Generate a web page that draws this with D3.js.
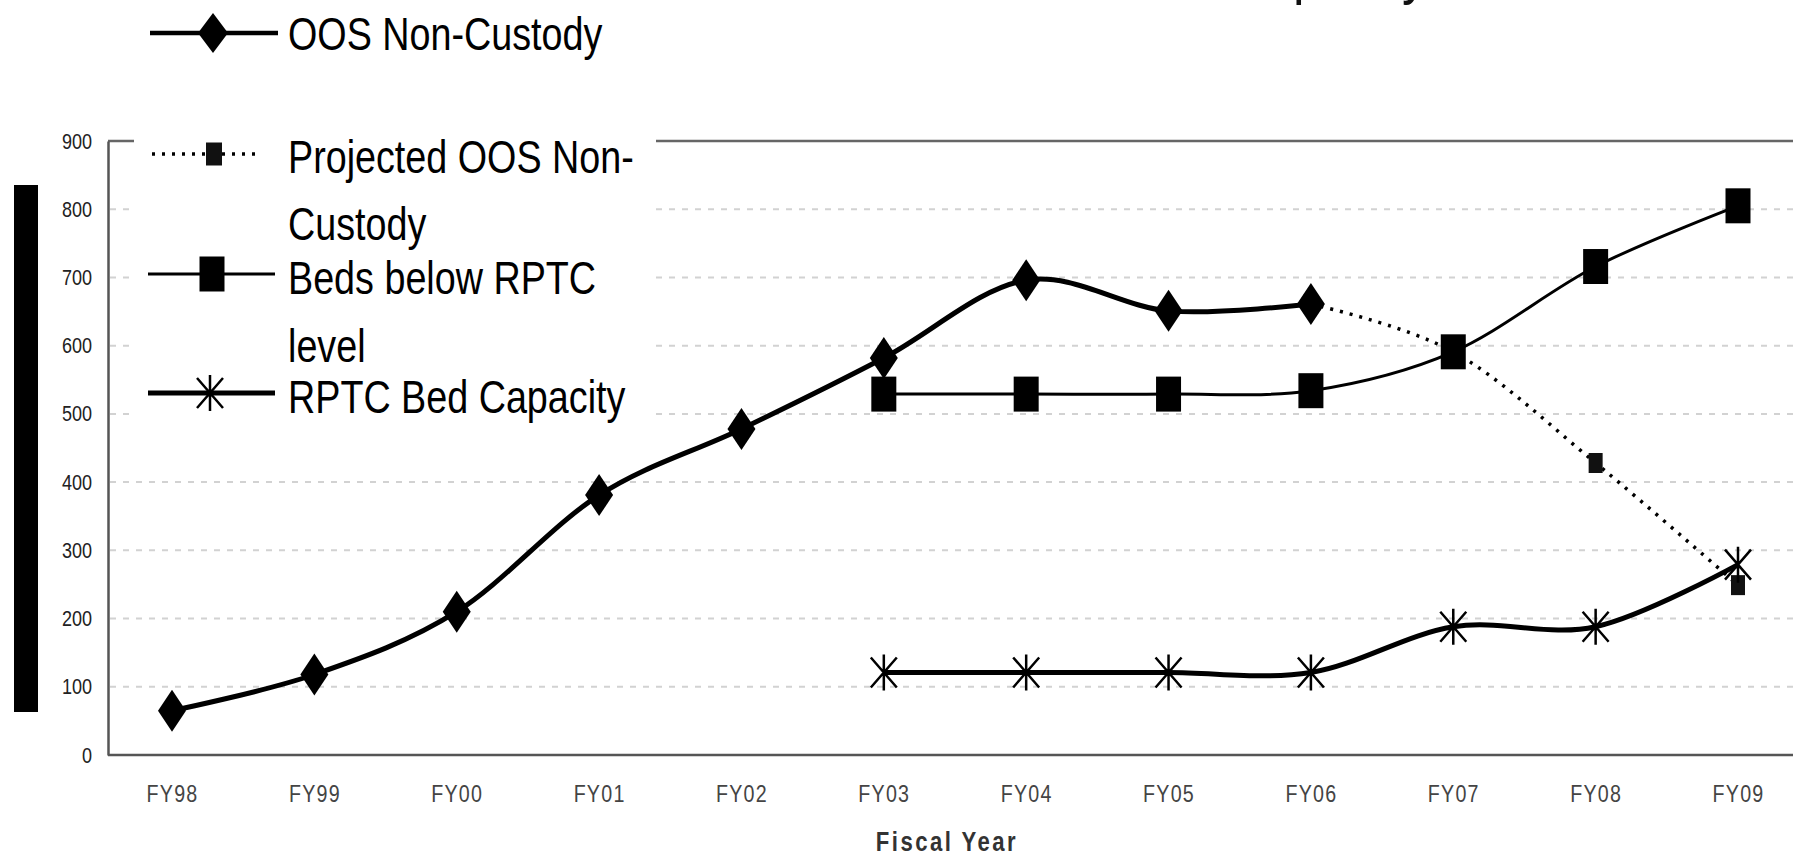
<!DOCTYPE html>
<html>
<head>
<meta charset="utf-8">
<script src="https://cdn.jsdelivr.net/npm/d3@7/dist/d3.min.js"></script>
<style>
  html, body { margin: 0; padding: 0; background: #ffffff; }
  svg { display: block; }
</style>
</head>
<body>
<svg id="chart" width="1793" height="859"></svg>
<script>
// ---------------- data ----------------
const categories = ["FY98","FY99","FY00","FY01","FY02","FY03","FY04","FY05","FY06","FY07","FY08","FY09"];
const oosNonCustody      = [65, 118, 210, 381, 478, 582, 696, 651, 661, null, null, null];
const projectedOOS       = [null, null, null, null, null, null, null, null, 661, 591, 428, 249];
const bedsBelowRPTC      = [null, null, null, null, null, 529, 529, 529, 534, 591, 716, 805];
const rptcBedCapacity    = [null, null, null, null, null, 121, 121, 121, 121, 188, 188, 279];
const yTickValues        = [0, 100, 200, 300, 400, 500, 600, 700, 800, 900];
const gridValues         = [100, 200, 300, 400, 500, 600, 700, 800];
const legendLabels = [
  ["OOS Non-Custody"],
  ["Projected OOS Non-", "Custody"],
  ["Beds below RPTC", "level"],
  ["RPTC Bed Capacity"]
];
const titleText = "Capacity";
const xAxisTitle = "Fiscal Year";

// ---------------- layout ----------------
const svg = d3.select("#chart");
const sans = "'Liberation Sans', Arial, sans-serif";
const NARROW = 0.82; // horizontal squeeze to mimic a narrow face
const x = d3.scalePoint().domain(categories).range([172, 1738]);
const y = d3.scaleLinear().domain([0, 900]).range([755, 141]);
const axisLeftX = 108, rightEdge = 1793;

// title fragment (cut off at top, only descenders visible)
svg.append("g").attr("transform", `translate(1227,-8) scale(${NARROW},1)`)
  .append("text")
  .attr("font-family", sans)
  .attr("font-size", 63).attr("fill", "#111")
  .text(titleText);

// black bar at left (y-axis title area)
svg.append("rect").attr("x", 14).attr("y", 185).attr("width", 24).attr("height", 527).attr("fill", "#000");

// gridlines
svg.append("g").selectAll("line").data(gridValues).join("line")
  .attr("x1", axisLeftX + 2).attr("x2", rightEdge)
  .attr("y1", d => y(d)).attr("y2", d => y(d))
  .attr("stroke", "#d2d2d2").attr("stroke-width", 2)
  .attr("stroke-dasharray", "6,7");

// top border
svg.append("line").attr("x1", axisLeftX).attr("x2", rightEdge)
  .attr("y1", y(900)).attr("y2", y(900))
  .attr("stroke", "#666").attr("stroke-width", 2.5);

// y axis
const yAxis = d3.axisLeft(y).tickValues(yTickValues).tickSize(0).tickPadding(0);
const gy = svg.append("g").attr("transform", `translate(${axisLeftX},0)`).call(yAxis);
gy.select(".domain").attr("stroke", "#555").attr("stroke-width", 2.5);
gy.selectAll("text").attr("font-family", sans).attr("font-size", 22).attr("fill", "#222")
  .attr("x", -16 / NARROW).attr("transform", `scale(${NARROW},1)`);

// x axis
const xAxis = d3.axisBottom(x).tickSize(0).tickPadding(30);
const gx = svg.append("g").attr("transform", `translate(0,${y(0)})`).call(xAxis);
gx.select(".domain").attr("d", `M${axisLeftX},0H${rightEdge}`).attr("stroke", "#555").attr("stroke-width", 2.5);
gx.selectAll("text").attr("font-family", sans).attr("font-size", 24)
  .attr("letter-spacing", 1.5).attr("fill", "#444").attr("transform", `scale(${NARROW},1)`);

// x axis title
svg.append("g").attr("transform", `translate(947,851) scale(${NARROW},1)`)
  .append("text").attr("text-anchor", "middle")
  .attr("font-family", sans).attr("font-size", 27).attr("font-weight", "bold")
  .attr("letter-spacing", 3).attr("fill", "#333").text(xAxisTitle);

// ---------------- series ----------------
const curve = d3.curveCatmullRom.alpha(0);
function lineGen() {
  return d3.line()
    .defined(d => d.v != null)
    .x(d => x(d.c)).y(d => y(d.v))
    .curve(curve);
}
function toPts(arr) { return categories.map((c, i) => ({c, v: arr[i]})); }

const diamond = (w, h) => `M0,${-h/2}L${w/2},0L0,${h/2}L${-w/2},0Z`;
const rectPath = (w, h) => `M${-w/2},${-h/2}h${w}v${h}h${-w}Z`;
const asterisk = (w, h) => `M0,${-h/2}L0,${h/2}M${-w/2},${-h/2+3}L${w/2},${h/2-3}M${w/2},${-h/2+3}L${-w/2},${h/2-3}`;

const series = [
  {data: projectedOOS, width: 3.5, dash: "3,7", marker: rectPath(14, 20), fill: "#111", stroke: "none", mw: 0},
  {data: oosNonCustody, width: 5, dash: null, marker: diamond(28, 42), fill: "#000", stroke: "none", mw: 0},
  {data: bedsBelowRPTC, width: 3, dash: null, marker: rectPath(25, 35), fill: "#000", stroke: "none", mw: 0},
  {data: rptcBedCapacity, width: 5, dash: null, marker: asterisk(26, 36), fill: "none", stroke: "#000", mw: 2.5}
];

const gs = svg.append("g");
series.forEach(s => {
  gs.append("path").datum(toPts(s.data))
    .attr("d", lineGen())
    .attr("fill", "none").attr("stroke", "#000")
    .attr("stroke-width", s.width)
    .attr("stroke-dasharray", s.dash)
    .attr("stroke-linejoin", "round");
});
series.forEach(s => {
  gs.append("g").selectAll("path").data(toPts(s.data).filter(d => d.v != null)).join("path")
    .attr("transform", d => `translate(${x(d.c)},${y(d.v)})`)
    .attr("d", s.marker)
    .attr("fill", s.fill).attr("stroke", s.stroke).attr("stroke-width", s.mw);
});

// ---------------- legend ----------------
svg.append("rect").attr("x", 134).attr("y", 0).attr("width", 522).attr("height", 418).attr("fill", "#fff");

const legendItems = [
  {lineY: 33,  x1: 150, x2: 278, mx: 213, dash: null, sw: 4.5, marker: diamond(30, 40), fill: "#000", stroke: "none", mw: 0, baselines: [50]},
  {lineY: 154, x1: 152, x2: 258, mx: 214, dash: "3,7", sw: 3.5, marker: rectPath(16, 23), fill: "#111", stroke: "none", mw: 0, baselines: [173, 240]},
  {lineY: 274, x1: 148, x2: 275, mx: 212, dash: null, sw: 3, marker: rectPath(25, 35), fill: "#000", stroke: "none", mw: 0, baselines: [294, 362]},
  {lineY: 393, x1: 148, x2: 275, mx: 210, dash: null, sw: 5, marker: asterisk(26, 36), fill: "none", stroke: "#000", mw: 2.5, baselines: [413]}
];
const lg = svg.append("g");
legendItems.forEach((it, i) => {
  lg.append("line").attr("x1", it.x1).attr("x2", it.x2).attr("y1", it.lineY).attr("y2", it.lineY)
    .attr("stroke", "#000").attr("stroke-width", it.sw).attr("stroke-dasharray", it.dash);
  lg.append("path").attr("transform", `translate(${it.mx},${it.lineY})`).attr("d", it.marker)
    .attr("fill", it.fill).attr("stroke", it.stroke).attr("stroke-width", it.mw);
  legendLabels[i].forEach((t, j) => {
    lg.append("g").attr("transform", `translate(288,${it.baselines[j]}) scale(${NARROW},1)`)
      .append("text").attr("x", 0).attr("y", 0)
      .attr("font-family", sans).attr("font-size", 46).attr("fill", "#000").text(t);
  });
});
</script>
</body>
</html>
